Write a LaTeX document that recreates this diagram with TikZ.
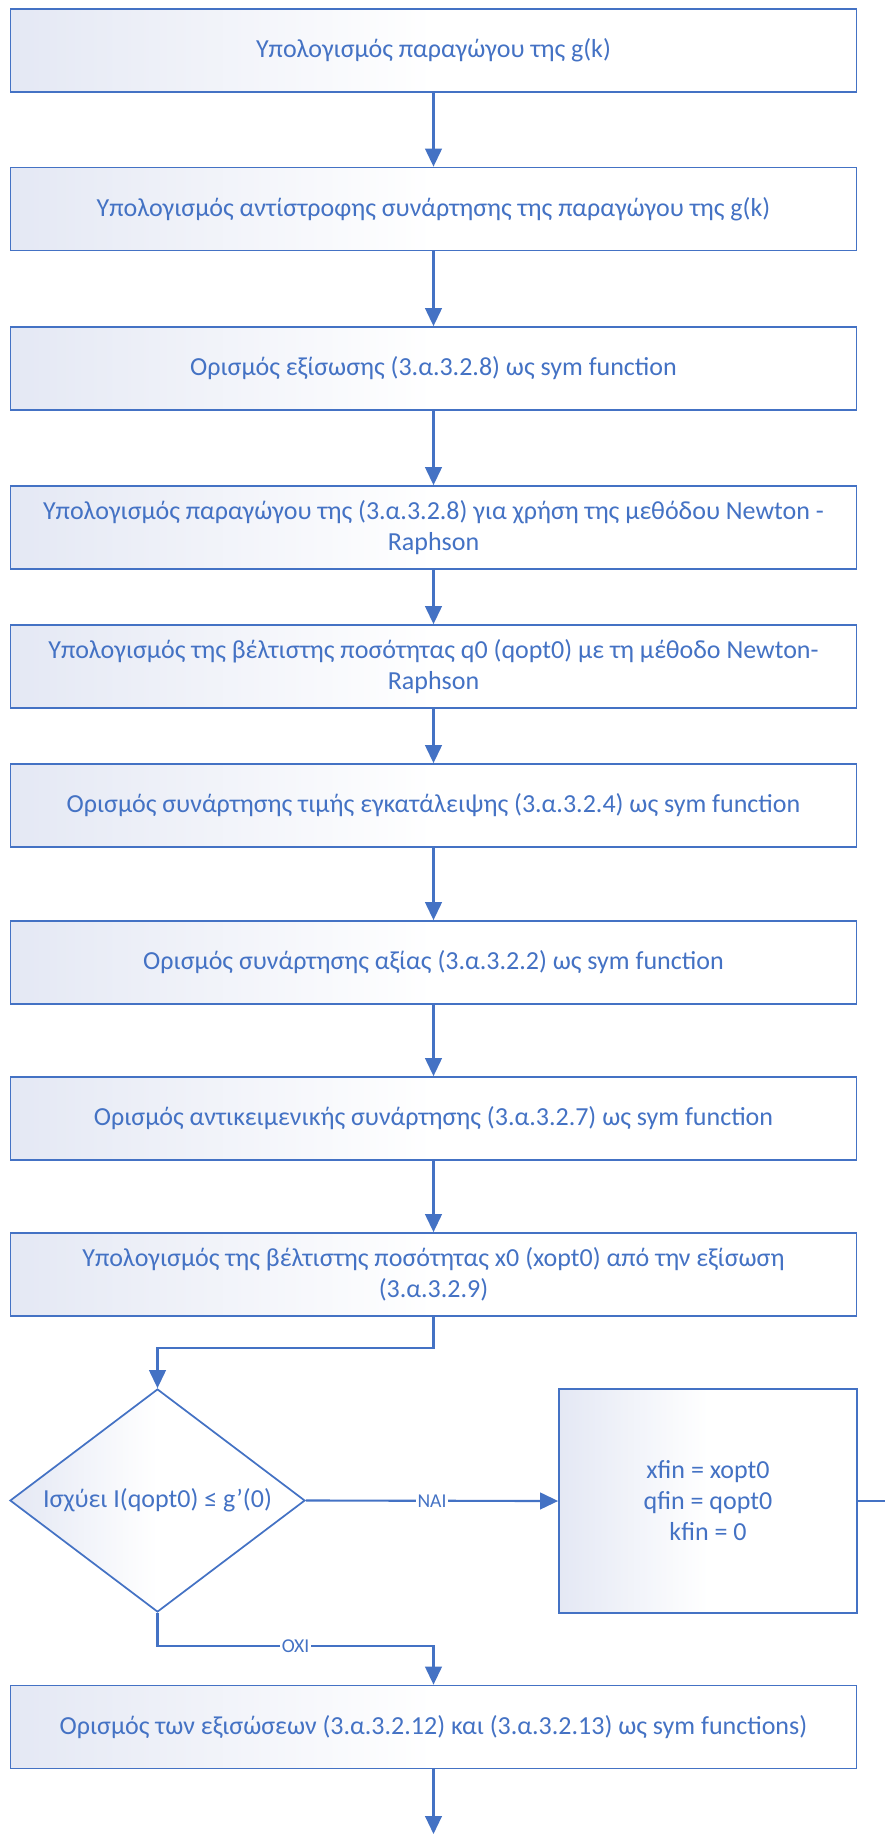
\documentclass[tikz,border=0pt]{standalone}
\usepackage{fontspec}
\setmainfont{Carlito}
\usetikzlibrary{arrows.meta,shapes.geometric}
\definecolor{ofblue}{HTML}{4472C4}
\definecolor{lav}{HTML}{E4E8F4}
\pgfdeclarehorizontalshading{boxshade}{100bp}{color(0bp)=(lav); color(25bp)=(lav); color(50bp)=(white); color(100bp)=(white)}
\tikzset{
  stepbox/.style={draw=ofblue, line width=1.3pt, rectangle, shading=boxshade,
    minimum width=634.5pt, minimum height=62.25pt, inner sep=0pt, align=center, text=ofblue,
    font=\fontsize{19.5}{23}\selectfont},
  decbox/.style={draw=ofblue, line width=1.3pt, diamond, aspect=1.32, shading=boxshade,
    minimum width=221.25pt, minimum height=167.25pt, inner sep=0pt, text=ofblue,
    font=\fontsize{19.5}{23}\selectfont},
  resbox/.style={draw=ofblue, line width=1.3pt, rectangle, shading=boxshade,
    minimum width=223.5pt, minimum height=168pt, inner sep=0pt, align=center, text=ofblue,
    font=\fontsize{19.5}{23.25}\selectfont},
  conn/.style={draw=ofblue, line width=1.6pt, -{Triangle[length=13.5pt,width=12.5pt]}},
  plainconn/.style={draw=ofblue, line width=1.6pt},
  lbl/.style={fill=white, text=ofblue, inner sep=1pt, font=\fontsize{14.7}{16}\selectfont}
}
\begin{document}
\begin{tikzpicture}[x=0.75pt,y=-0.75pt]
\useasboundingbox (0,0) rectangle (885,1834);
\node[stepbox] (b1) at (433.5,50.5) {Υπολογισμός παραγώγου της g(k)};
\node[stepbox] (b2) at (433.5,209) {Υπολογισμός αντίστροφης συνάρτησης της παραγώγου της g(k)};
\node[stepbox] (b3) at (433.5,368.5) {Ορισμός εξίσωσης (3.α.3.2.8) ως sym function};
\node[stepbox] (b4) at (433.5,527.5) {Υπολογισμός παραγώγου της (3.α.3.2.8) για χρήση της μεθόδου Newton -\\Raphson};
\node[stepbox] (b5) at (433.5,666.5) {Υπολογισμός της βέλτιστης ποσότητας q0 (qopt0) με τη μέθοδο Newton-\\Raphson};
\node[stepbox] (b6) at (433.5,805.5) {Ορισμός συνάρτησης τιμής εγκατάλειψης (3.α.3.2.4) ως sym function};
\node[stepbox] (b7) at (433.5,962.5) {Ορισμός συνάρτησης αξίας (3.α.3.2.2) ως sym function};
\node[stepbox] (b8) at (433.5,1118.5) {Ορισμός αντικειμενικής συνάρτησης (3.α.3.2.7) ως sym function};
\node[stepbox] (b9) at (433.5,1274.5) {Υπολογισμός της βέλτιστης ποσότητας x0 (xopt0) από την εξίσωση\\(3.α.3.2.9)};
\node[decbox] (dec) at (157.5,1500.5) {Ισχύει I(qopt0) ≤ g’(0)};
\node[resbox] (res) at (708,1501) {xfin = xopt0\\qfin = qopt0\\kfin = 0};
\node[stepbox] (b10) at (433.5,1727) {Ορισμός των εξισώσεων (3.α.3.2.12) και (3.α.3.2.13) ως sym functions)};
\coordinate (e1) at (433.5,1348);
\coordinate (e2) at (433.5,1646);
\coordinate (rout) at (885,1501);
\coordinate (bout) at (433.5,1834);
\draw[conn] (b1) -- (b2);
\draw[conn] (b2) -- (b3);
\draw[conn] (b3) -- (b4);
\draw[conn] (b4) -- (b5);
\draw[conn] (b5) -- (b6);
\draw[conn] (b6) -- (b7);
\draw[conn] (b7) -- (b8);
\draw[conn] (b8) -- (b9);
\draw[conn] (b9.south) -- (e1) -| (dec.north);
\draw[conn] (dec.east) -- node[lbl] {ΝΑΙ} (res.west);
\draw[conn] (dec.south) |- node[lbl,pos=0.75] {ΟΧΙ} (e2) -- (b10.north);
\draw[plainconn] (res.east) -- (rout);
\draw[conn] (b10.south) -- (bout);
\end{tikzpicture}
\end{document}
